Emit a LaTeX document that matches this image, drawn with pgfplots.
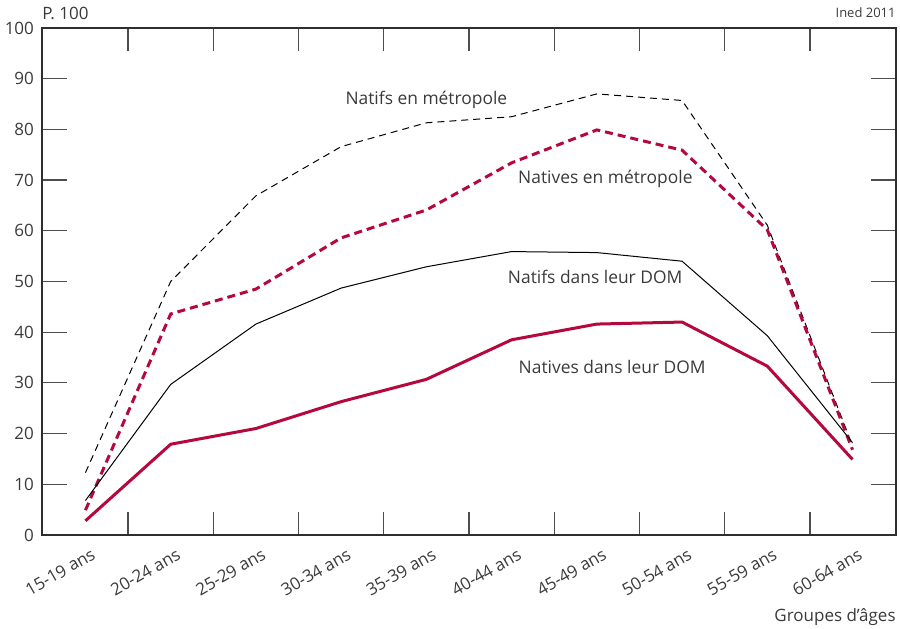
\documentclass[border=0pt]{standalone}
\usepackage{fontspec}
\setmainfont{Open Sans}
\usepackage{pgfplots}
\pgfplotsset{compat=1.18}
\definecolor{inedred}{HTML}{B5083D}
\definecolor{txt}{HTML}{3A3A3A}
\definecolor{axc}{HTML}{2E2E2E}

% taux en % par groupe d'ages (0 = 15-19 ans ... 9 = 60-64 ans)
\pgfplotstableread{
x  natifsmet  nativesmet  natifsdom  nativesdom
0  12.3       4.9         6.8        2.8
1  50.0       43.6        29.7       17.9
2  66.9       48.5        41.6       21.0
3  76.6       58.6        48.7       26.3
4  81.3       64.1        52.9       30.7
5  82.5       73.4        55.9       38.5
6  87.0       79.9        55.7       41.6
7  85.7       75.9        54.0       42.0
8  61.1       60.2        39.3       33.3
9  17.6       16.8        18.2       14.9
}\taux

\begin{document}
\begin{tikzpicture}
\begin{axis}[
    scale only axis,
    width=427pt, height=253.5pt,
    xmin=-0.51, xmax=9.51,
    ymin=0, ymax=100,
    axis line style={axc, line width=0.6pt},
    font=\fontsize{8.5}{10}\selectfont,
    /pgf/number format/assume math mode=true,
    tick label style={txt},
    tick align=inside,
    xtick={0,...,9},
    xticklabels={15-19 ans,20-24 ans,25-29 ans,30-34 ans,35-39 ans,40-44 ans,45-49 ans,50-54 ans,55-59 ans,60-64 ans},
    major x tick style={draw=none},
    minor xtick={0.5,1.5,...,8.5},
    minor tick length=11.5pt,
    minor x tick style={axc!85, line width=0.6pt},
    xtick pos=both, xticklabel pos=lower,
    xticklabel style={rotate=30, anchor=north east, yshift=-3pt, xshift=2.5pt},
    ytick={0,10,...,100},
    major tick length=12.5pt,
    ytick pos=both, yticklabel pos=left,
    y tick style={axc!85, line width=0.6pt},
    yticklabel style={xshift=-0.5pt},
    clip=false,
]
\addplot[black, line width=0.5pt, dash pattern=on 3.5pt off 2.5pt] table[x=x, y=natifsmet] {\taux};
\addplot[inedred, line width=1.5pt, dash pattern=on 4pt off 2.5pt] table[x=x, y=nativesmet] {\taux};
\addplot[black, line width=0.5pt] table[x=x, y=natifsdom] {\taux};
\addplot[inedred, line width=1.5pt] table[x=x, y=nativesdom] {\taux};

\node[txt, font=\fontsize{8.7}{10}\selectfont] at (axis cs:4.0,85.8) {Natifs en métropole};
\node[txt, font=\fontsize{8.7}{10}\selectfont] at (axis cs:6.1,70.2) {Natives en métropole};
\node[txt, font=\fontsize{8.7}{10}\selectfont] at (axis cs:5.98,50.9) {Natifs dans leur DOM};
\node[txt, font=\fontsize{8.7}{10}\selectfont] at (axis cs:6.18,33.1) {Natives dans leur DOM};

\node[txt, anchor=west, inner sep=0pt] at ([shift={(0pt,7.5pt)}]rel axis cs:0,1) {P. 100};
\node[txt, anchor=east, inner sep=0pt, font=\fontsize{6.5}{8}\selectfont] at ([shift={(0pt,7.5pt)}]rel axis cs:1,1) {Ined 2011};
\node[txt, anchor=east, inner sep=0pt] at ([shift={(0pt,-41pt)}]rel axis cs:1,0) {Groupes d’âges};
\end{axis}
\pgfresetboundingbox
\path[use as bounding box] ([shift={(-21pt,-47pt)}]current axis.south west) rectangle ([shift={(2pt,14pt)}]current axis.north east);
\end{tikzpicture}
\end{document}
